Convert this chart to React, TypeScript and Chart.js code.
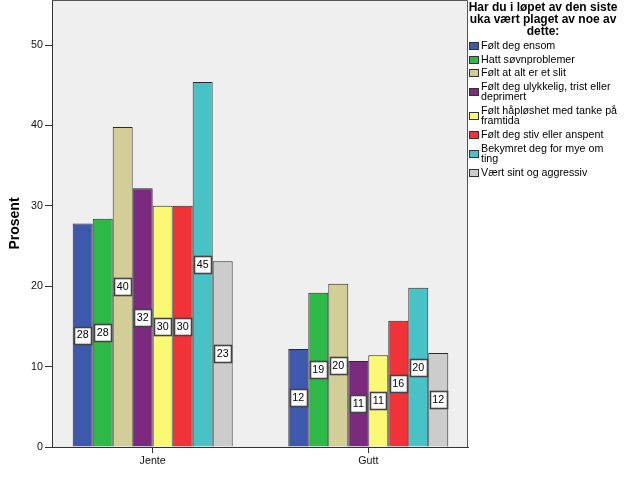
import React, { useEffect, useRef } from "react";
import { Chart, registerables } from "chart.js";

Chart.register(...registerables);

const categories = ["Jente", "Gutt"];
const seriesNames = [
  "Følt deg ensom",
  "Hatt søvnproblemer",
  "Følt at alt er et slit",
  "Følt deg ulykkelig, trist eller deprimert",
  "Følt håpløshet med tanke på framtida",
  "Følt deg stiv eller anspent",
  "Bekymret deg for mye om ting",
  "Vært sint og aggressiv",
];
const legendLabelLines = [
  ["Følt deg ensom"],
  ["Hatt søvnproblemer"],
  ["Følt at alt er et slit"],
  ["Følt deg ulykkelig, trist eller", "deprimert"],
  ["Følt håpløshet med tanke på", "framtida"],
  ["Følt deg stiv eller anspent"],
  ["Bekymret deg for mye om", "ting"],
  ["Vært sint og aggressiv"],
];
const legendTitleLines = ["Har du i løpet av den siste", "uka vært plaget av noe av", "dette:"];
const jenteValues = [27.8, 28.4, 39.8, 32.2, 30.0, 30.0, 45.4, 23.1];
const guttValues = [12.2, 19.2, 20.3, 10.7, 11.4, 15.7, 19.8, 11.7];
const seriesColors = ["#3e58ac", "#2eb848", "#d3ce97", "#7b2a7d", "#fbf873", "#ef3338", "#48c2c5", "#cccccc"];
const yTicks = [0, 10, 20, 30, 40, 50];
const yAxisTitle = "Prosent";

const FONT = '"Liberation Sans", Arial, sans-serif';

const framePlugin = {
  id: "frame",
  beforeDraw(chart: any) {
    const { ctx, chartArea } = chart;
    ctx.save();
    ctx.fillStyle = "#efefef";
    ctx.fillRect(chartArea.left, chartArea.top, chartArea.right - chartArea.left, chartArea.bottom - chartArea.top);
    ctx.restore();
  },
  beforeDatasetsDraw(chart: any) {
    const { ctx, chartArea } = chart;
    ctx.save();
    ctx.strokeStyle = "#555";
    ctx.lineWidth = 1;
    ctx.beginPath();
    ctx.moveTo(chartArea.left, chartArea.top + 0.5);
    ctx.lineTo(chartArea.right - 0.5, chartArea.top + 0.5);
    ctx.lineTo(chartArea.right - 0.5, chartArea.bottom);
    ctx.stroke();
    ctx.restore();
  },
};

const labelPlugin = {
  id: "barLabels",
  afterDatasetsDraw(chart: any) {
    const ctx = chart.ctx;
    ctx.save();
    ctx.font = `10.7px ${FONT}`;
    ctx.textAlign = "center";
    ctx.textBaseline = "middle";
    chart.data.datasets.forEach((ds: any, di: number) => {
      const meta = chart.getDatasetMeta(di);
      meta.data.forEach((el: any, i: number) => {
        const v = ds.data[i].y;
        const { x, y, base } = el.getProps(["x", "y", "base"], true);
        const cy = (y + base) / 2;
        const txt = String(Math.round(v));
        const tw = ctx.measureText(txt).width;
        const w = Math.round(tw + 5);
        const h = 17;
        const lx = Math.round(x - w / 2) + 0.5;
        const ty = Math.round(cy - h / 2) + 0.5;
        ctx.fillStyle = "#ffffff";
        ctx.fillRect(lx, ty, w, h);
        ctx.strokeStyle = "#444";
        ctx.lineWidth = 1.6;
        ctx.strokeRect(lx, ty, w, h);
        ctx.fillStyle = "#000";
        ctx.fillText(txt, x, cy + 0.5);
      });
    });
    ctx.restore();
  },
};

const legendPlugin = {
  id: "customLegend",
  afterDraw(chart: any) {
    const ctx = chart.ctx;
    ctx.save();
    ctx.fillStyle = "#000";
    ctx.font = `bold 12px ${FONT}`;
    ctx.textAlign = "center";
    ctx.textBaseline = "middle";
    legendTitleLines.forEach((l, i) => ctx.fillText(l, 543, 8 + i * 12));
    ctx.font = `10.7px ${FONT}`;
    ctx.textAlign = "left";
    let y = 46;
    legendLabelLines.forEach((lines, i) => {
      const n = lines.length;
      const center = y + ((n - 1) * 10.5) / 2;
      const sy = Math.round(center - 4);
      ctx.fillStyle = seriesColors[i];
      ctx.fillRect(469, sy, 10, 8);
      ctx.strokeStyle = "#333";
      ctx.lineWidth = 1;
      ctx.strokeRect(469.5, sy + 0.5, 9, 7);
      ctx.fillStyle = "#000";
      lines.forEach((t, j) => ctx.fillText(t, 481, y + j * 10.5));
      y += (n - 1) * 10.5 + 13.6;
    });
    ctx.restore();
  },
};

export default function App() {
  const ref = useRef<HTMLCanvasElement | null>(null);
  useEffect(() => {
    if (!ref.current) return;
    const datasets = seriesNames.map((name, si) => ({
      label: name,
      data: categories.map((_, ci) => ({ x: ci, y: ci === 0 ? jenteValues[si] : guttValues[si] })),
      backgroundColor: seriesColors[si],
      borderColor: "#2a2a2a",
      borderWidth: 1,
      categoryPercentage: 0.742,
      barPercentage: 1.0,
    }));
    const chart = new Chart(ref.current, {
      type: "bar",
      data: { datasets },
      options: {
        responsive: false,
        animation: false,
        layout: { padding: { top: 0, right: 158, left: 0, bottom: 0 } },
        plugins: { legend: { display: false }, tooltip: { enabled: false } },
        scales: {
          x: {
            type: "linear",
            offset: false,
            min: -0.467,
            max: 1.4625,
            afterBuildTicks: (s: any) => {
              s.ticks = categories.map((_, i) => ({ value: i }));
            },
            afterFit: (s: any) => {
              s.height = 54;
              s.paddingLeft = 0;
              s.paddingRight = 0;
            },
            ticks: {
              callback: (_v: any, i: number) => categories[i],
              font: { family: FONT, size: 10.7 },
              color: "#111",
              padding: 2,
              autoSkip: false,
              maxRotation: 0,
            },
            grid: { offset: false, drawOnChartArea: false, drawTicks: true, tickLength: 6, color: "#333" },
            border: { display: true, color: "#333" },
          },
          y: {
            min: 0,
            max: 55.6,
            afterBuildTicks: (s: any) => {
              s.ticks = yTicks.map((v) => ({ value: v }));
            },
            afterFit: (s: any) => {
              s.width = 52;
              s.paddingTop = 0;
              s.paddingBottom = 0;
            },
            ticks: { font: { family: FONT, size: 10.7 }, color: "#111", padding: 2 },
            grid: { drawOnChartArea: false, drawTicks: true, tickLength: 7, color: "#333" },
            border: { display: true, color: "#333" },
            title: {
              display: true,
              text: yAxisTitle,
              font: { family: FONT, size: 14, weight: "bold" },
              color: "#000",
              padding: { top: 6.6, bottom: 0 },
            },
          },
        },
      },
      plugins: [framePlugin, labelPlugin, legendPlugin],
    } as any);
    return () => chart.destroy();
  }, []);
  return (
    <div style={{ position: "absolute", left: 0, top: 0, width: 626, height: 501, background: "#fff" }}>
      <canvas ref={ref} width={626} height={501} style={{ display: "block" }} />
    </div>
  );
}
